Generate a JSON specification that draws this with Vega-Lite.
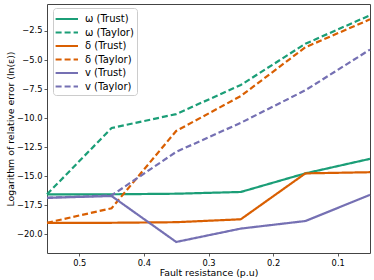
{
  "$schema": "https://vega.github.io/schema/vega-lite/v6.json",
  "width": 323,
  "height": 249,
  "autosize": {"type": "none"},
  "padding": {"left": 47, "top": 4, "right": 4, "bottom": 27},
  "background": "white",
  "config": {
    "font": "DejaVu Sans",
    "view": {"stroke": "#444", "strokeWidth": 1},
    "axis": {
      "domain": false,
      "grid": false,
      "tickColor": "#333",
      "tickSize": 3,
      "tickWidth": 0.8,
      "labelPadding": 2,
      "labelFont": "DejaVu Sans",
      "labelFontSize": 8.3,
      "labelColor": "#000",
      "titleFont": "DejaVu Sans",
      "titleFontSize": 9.4,
      "titleFontWeight": "normal",
      "titleColor": "#000"
    },
    "legend": {
      "orient": "none",
      "legendX": 6,
      "legendY": 4,
      "padding": 3,
      "fillColor": "white",
      "strokeColor": "#cccccc",
      "cornerRadius": 3,
      "symbolType": "M-1.2,0H2",
      "symbolSize": 196,
      "symbolStrokeWidth": 2,
      "labelOffset": 13,
      "rowPadding": 0.5,
      "labelFont": "DejaVu Sans",
      "labelFontSize": 10,
      "labelColor": "#000"
    }
  },
  "data": {
    "values": [
      {"x": 0.55, "y": -16.55, "series": "ω (Trust)"},
      {"x": 0.45, "y": -16.55, "series": "ω (Trust)"},
      {"x": 0.35, "y": -16.5, "series": "ω (Trust)"},
      {"x": 0.25, "y": -16.35, "series": "ω (Trust)"},
      {"x": 0.15, "y": -14.75, "series": "ω (Trust)"},
      {"x": 0.05, "y": -13.5, "series": "ω (Trust)"},
      {"x": 0.55, "y": -16.55, "series": "ω (Taylor)"},
      {"x": 0.45, "y": -10.85, "series": "ω (Taylor)"},
      {"x": 0.35, "y": -9.65, "series": "ω (Taylor)"},
      {"x": 0.25, "y": -7.15, "series": "ω (Taylor)"},
      {"x": 0.15, "y": -3.6, "series": "ω (Taylor)"},
      {"x": 0.05, "y": -1.15, "series": "ω (Taylor)"},
      {"x": 0.55, "y": -19.0, "series": "δ (Trust)"},
      {"x": 0.45, "y": -19.0, "series": "δ (Trust)"},
      {"x": 0.35, "y": -18.95, "series": "δ (Trust)"},
      {"x": 0.25, "y": -18.7, "series": "δ (Trust)"},
      {"x": 0.15, "y": -14.75, "series": "δ (Trust)"},
      {"x": 0.05, "y": -14.65, "series": "δ (Trust)"},
      {"x": 0.55, "y": -19.0, "series": "δ (Taylor)"},
      {"x": 0.45, "y": -17.75, "series": "δ (Taylor)"},
      {"x": 0.35, "y": -11.1, "series": "δ (Taylor)"},
      {"x": 0.25, "y": -8.1, "series": "δ (Taylor)"},
      {"x": 0.15, "y": -3.9, "series": "δ (Taylor)"},
      {"x": 0.05, "y": -1.5, "series": "δ (Taylor)"},
      {"x": 0.55, "y": -16.85, "series": "v (Trust)"},
      {"x": 0.45, "y": -16.7, "series": "v (Trust)"},
      {"x": 0.35, "y": -20.65, "series": "v (Trust)"},
      {"x": 0.25, "y": -19.5, "series": "v (Trust)"},
      {"x": 0.15, "y": -18.85, "series": "v (Trust)"},
      {"x": 0.05, "y": -16.6, "series": "v (Trust)"},
      {"x": 0.55, "y": -16.85, "series": "v (Taylor)"},
      {"x": 0.45, "y": -16.65, "series": "v (Taylor)"},
      {"x": 0.35, "y": -12.9, "series": "v (Taylor)"},
      {"x": 0.25, "y": -10.4, "series": "v (Taylor)"},
      {"x": 0.15, "y": -7.6, "series": "v (Taylor)"},
      {"x": 0.05, "y": -4.1, "series": "v (Taylor)"}
    ]
  },
  "mark": {"type": "line", "strokeWidth": 2.2},
  "encoding": {
    "x": {
      "field": "x",
      "type": "quantitative",
      "scale": {"domain": [0.05, 0.55], "reverse": true, "nice": false, "zero": false},
      "axis": {
        "values": [0.5, 0.4, 0.3, 0.2, 0.1],
        "format": ".1f",
        "title": "Fault resistance (p.u)",
        "titleX": 161.5,
        "titleY": 22,
        "titleBaseline": "alphabetic",
        "titleAlign": "center"
      }
    },
    "y": {
      "field": "y",
      "type": "quantitative",
      "scale": {"domain": [-21.6, -0.18], "nice": false, "zero": false},
      "axis": {
        "values": [-20, -17.5, -15, -12.5, -10, -7.5, -5, -2.5],
        "format": ".1f",
        "title": "Logarithm of relative error (ln(ε))",
        "titleX": -37,
        "titleY": 124.5,
        "titleAngle": 270,
        "titleBaseline": "middle",
        "titleAlign": "center"
      }
    },
    "color": {
      "field": "series",
      "type": "nominal",
      "scale": {
        "domain": ["ω (Trust)", "ω (Taylor)", "δ (Trust)", "δ (Taylor)", "v (Trust)", "v (Taylor)"],
        "range": ["#1b9e77", "#1b9e77", "#d95f02", "#d95f02", "#7570b3", "#7570b3"]
      },
      "legend": {"title": null}
    },
    "strokeDash": {
      "field": "series",
      "type": "nominal",
      "scale": {
        "domain": ["ω (Trust)", "ω (Taylor)", "δ (Trust)", "δ (Taylor)", "v (Trust)", "v (Taylor)"],
        "range": [[1, 0], [6, 3], [1, 0], [6, 3], [1, 0], [6, 3]]
      },
      "legend": {"title": null}
    }
  }
}
